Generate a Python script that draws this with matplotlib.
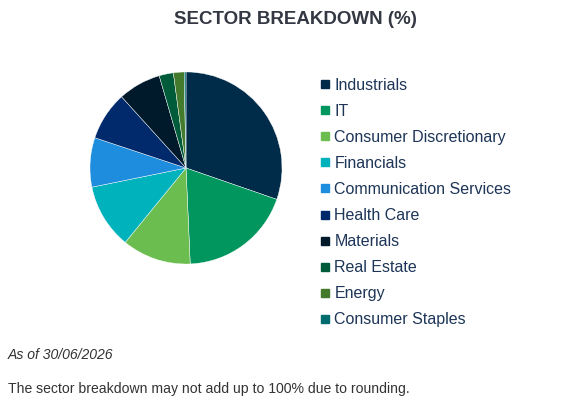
import matplotlib.pyplot as plt
from matplotlib.lines import Line2D

plt.rcParams['font.family'] = ['Liberation Sans', 'DejaVu Sans']

sectors = ['Industrials', 'IT', 'Consumer Discretionary', 'Financials',
           'Communication Services', 'Health Care', 'Materials',
           'Real Estate', 'Energy', 'Consumer Staples']
weights = [30.3, 19.0, 11.6, 10.9, 8.3, 8.2, 7.2, 2.4, 1.8, 0.3]
colors = ['#002b49', '#00965e', '#6cbd4f', '#00b2bb', '#1f8ddd',
          '#002a6c', '#001a2c', '#005b3a', '#437a2c', '#006b6e']

fig = plt.figure(figsize=(5.79, 4.04), dpi=100)

# pie axes: centre ~(186,168) px, radius ~96 px
ax = fig.add_axes([(186 - 97) / 579, (404 - 168 - 97) / 404, 194 / 579, 194 / 404])
wedges, _ = ax.pie(weights, colors=colors, startangle=90, counterclock=False,
                   radius=1.0, wedgeprops=dict(edgecolor='white', linewidth=0.3))
ax.set_xlim(-1.01, 1.01)
ax.set_ylim(-1.01, 1.01)
ax.set_aspect('equal')

handles = [Line2D([], [], marker='s', linestyle='none', markersize=6,
                  markerfacecolor=c, markeredgecolor=c) for c in colors]
leg = fig.legend(handles, sectors, loc='upper left',
                 bbox_to_anchor=(320 / 579, 1 - 78 / 404),
                 frameon=False, fontsize=11.5, labelspacing=0.69,
                 handlelength=0.6, handletextpad=0.3, borderpad=0,
                 borderaxespad=0)
for t in leg.get_texts():
    t.set_color('#1d3557')

fig.text(295 / 579, 1 - 20 / 404, 'SECTOR BREAKDOWN (%)', ha='center', va='center',
         fontsize=13.5, fontweight='bold', color='#333842')
fig.text(8 / 579, 1 - 355 / 404, 'As of 30/06/2026', ha='left', va='center',
         fontsize=10.1, style='italic', color='#333333')
fig.text(8 / 579, 1 - 389 / 404,
         'The sector breakdown may not add up to 100% due to rounding.',
         ha='left', va='center', fontsize=10.1, color='#333333')

fig.savefig('out.png', dpi=100)
